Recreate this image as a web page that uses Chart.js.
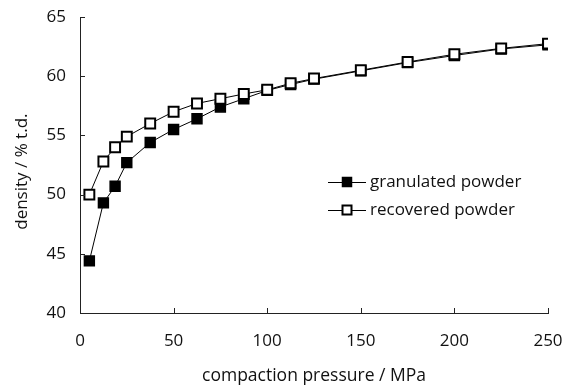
<!DOCTYPE html>
<html>
<head>
<meta charset="utf-8">
<script src="https://cdn.jsdelivr.net/npm/chart.js@4/dist/chart.umd.min.js"></script>
<style>
html,body{margin:0;padding:0;background:#fff;}
#wrap{width:566px;height:388px;position:relative;}
</style>
</head>
<body>
<div id="wrap"><canvas id="c" width="566" height="388"></canvas></div>
<script>
const pressure = [5, 12.5, 18.75, 25, 37.5, 50, 62.5, 75, 87.5, 100, 112.5, 125, 150, 175, 200, 225, 250];
const granulated = [44.4, 49.3, 50.7, 52.7, 54.4, 55.5, 56.4, 57.4, 58.1, 58.8, 59.3, 59.75, 60.45, 61.15, 61.75, 62.3, 62.65];
const recovered = [50.0, 52.8, 54.0, 54.9, 56.0, 57.0, 57.7, 58.1, 58.5, 58.85, 59.4, 59.8, 60.5, 61.2, 61.85, 62.35, 62.75];
const seriesNames = ['granulated powder', 'recovered powder'];
const xTitle = 'compaction pressure / MPa';
const yTitle = 'density / % t.d.';

const FONT = '"Open Sans", "Noto Sans", sans-serif';

const inwardTicks = {
  id: 'inwardTicks',
  afterDraw(chart) {
    const ctx = chart.ctx;
    const xs = chart.scales.x, ys = chart.scales.y;
    const ca = chart.chartArea;
    ctx.save();
    ctx.strokeStyle = '#222';
    ctx.lineWidth = 1;
    ctx.beginPath();
    xs.ticks.forEach(t => {
      if (t.value === xs.min) return;
      const px = Math.round(xs.getPixelForValue(t.value)) + 0.5;
      ctx.moveTo(px, ca.bottom);
      ctx.lineTo(px, ca.bottom - 5);
    });
    ys.ticks.forEach(t => {
      if (t.value === ys.min) return;
      const py = Math.round(ys.getPixelForValue(t.value)) + 0.5;
      ctx.moveTo(ca.left, py);
      ctx.lineTo(ca.left + 5, py);
    });
    ctx.stroke();
    ctx.restore();
  }
};

const customLegend = {
  id: 'customLegend',
  afterDraw(chart) {
    const ctx = chart.ctx;
    const ca = chart.chartArea;
    const x0 = 328, x1 = 366, mx = 347, tx = 370;
    const rows = [ca.top + 165, ca.top + 193];
    ctx.save();
    [0, 1].forEach((di, i) => {
      const ds = chart.data.datasets[di];
      const y = rows[i];
      ctx.strokeStyle = '#000';
      ctx.lineWidth = 1;
      ctx.beginPath();
      ctx.moveTo(x0, y + 0.5);
      ctx.lineTo(x1, y + 0.5);
      ctx.stroke();
      const s = 9;
      ctx.fillStyle = ds.pointBackgroundColor;
      ctx.fillRect(mx - s / 2, y - s / 2, s, s);
      ctx.lineWidth = ds.pointBorderWidth;
      ctx.strokeStyle = ds.pointBorderColor;
      ctx.strokeRect(mx - s / 2, y - s / 2, s, s);
      ctx.fillStyle = '#111';
      ctx.font = '17px ' + FONT;
      ctx.textBaseline = 'middle';
      ctx.textAlign = 'left';
      ctx.fillText(ds.label, tx, y);
    });
    ctx.restore();
  }
};

new Chart(document.getElementById('c'), {
  type: 'line',
  data: {
    datasets: [
      {
        label: seriesNames[0],
        data: pressure.map((p, i) => ({x: p, y: granulated[i]})),
        borderColor: '#000',
        borderWidth: 1,
        pointStyle: 'rect',
        pointRadius: 7,
        pointBackgroundColor: '#000',
        pointBorderColor: '#000',
        pointBorderWidth: 1.5,
        tension: 0,
        order: 1
      },
      {
        label: seriesNames[1],
        data: pressure.map((p, i) => ({x: p, y: recovered[i]})),
        borderColor: '#000',
        borderWidth: 1,
        pointStyle: 'rect',
        pointRadius: 7,
        pointBackgroundColor: '#fff',
        pointBorderColor: '#000',
        pointBorderWidth: 2,
        tension: 0,
        order: 0
      }
    ]
  },
  options: {
    responsive: false,
    animation: false,
    layout: {padding: {top: 17, right: 18, left: 0, bottom: 0}},
    plugins: {
      legend: {display: false},
      tooltip: {enabled: false}
    },
    scales: {
      x: {
        type: 'linear',
        min: 0, max: 250,
        afterFit: s => { s.height = 75; s.paddingLeft = 0; s.paddingRight = 0; },
        border: {display: true, color: '#222', width: 1},
        grid: {display: false, drawTicks: false},
        ticks: {stepSize: 50, padding: 18, color: '#111', font: {family: FONT, size: 17}},
        title: {display: true, text: xTitle, color: '#111', font: {family: FONT, size: 17.5}, padding: {top: 4, bottom: 1}}
      },
      y: {
        type: 'linear',
        min: 40, max: 65,
        afterFit: s => { s.width = 80; s.paddingTop = 0; s.paddingBottom = 0; },
        border: {display: true, color: '#222', width: 1},
        grid: {display: false, drawTicks: false},
        ticks: {stepSize: 5, padding: 14, color: '#111', font: {family: FONT, size: 17}},
        title: {display: true, text: yTitle + '   ', color: '#111', font: {family: FONT, size: 17}, padding: {top: 12, bottom: 0}}
      }
    }
  },
  plugins: [inwardTicks, customLegend]
});
</script>
</body>
</html>
